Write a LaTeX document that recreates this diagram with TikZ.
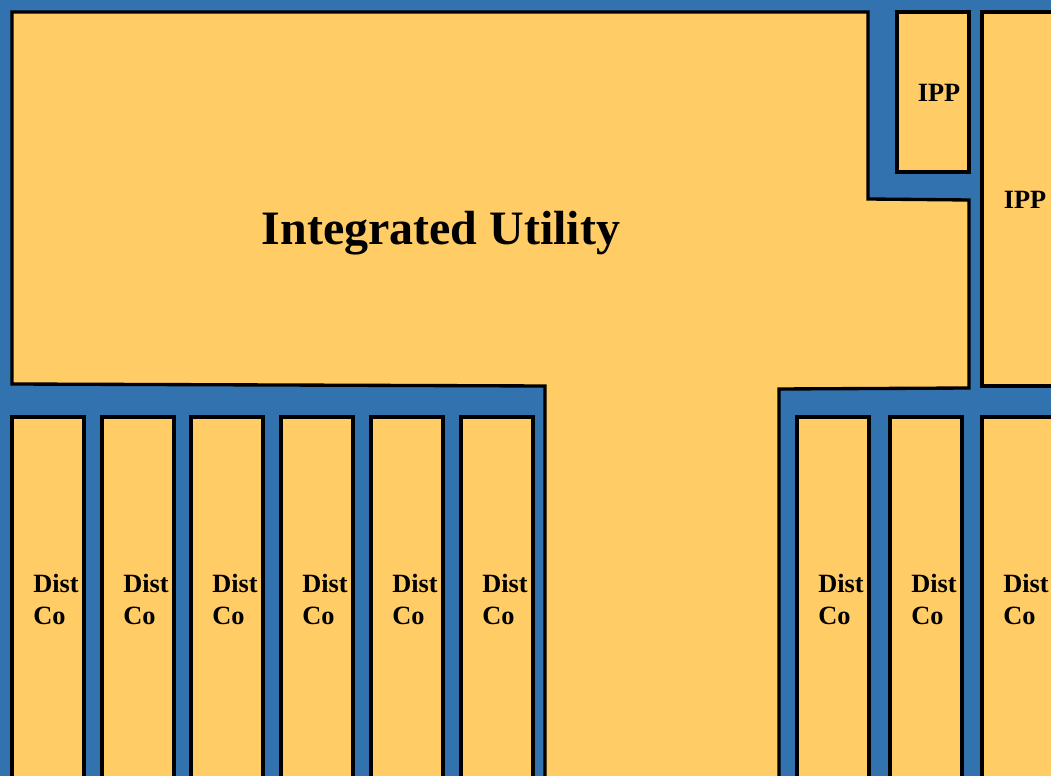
\documentclass[tikz,border=0pt]{standalone}
\usepackage{fontspec}
\setmainfont{Liberation Serif}
\usetikzlibrary{positioning}
\definecolor{gridblue}{RGB}{50,114,175}
\definecolor{areagold}{RGB}{255,204,102}
\tikzset{area/.style={draw=black, fill=areagold, line width=1.9pt},
  areatext/.style={font=\fontsize{15}{18.2}\selectfont\bfseries, inner sep=0pt, align=left}}

\begin{document}
\begin{tikzpicture}[x=0.02cm, y=-0.02cm]

\useasboundingbox (0,0) rectangle (1051,776);
\fill[gridblue] (0,0) rectangle (1051,776);
\clip (0,0) rectangle (1051,776);

% integrated utility
\draw[area] (12,12) -- (868,12) -- (868,199) -- (969,200) -- (969,388) -- (779,389)
  -- (779,800) -- (545,800) -- (545,386) -- (12,384) -- cycle;
\node (iu) [font=\fontsize{27.3}{31}\selectfont\bfseries] at (441,233) {Integrated Utility};

% independent producers
\draw[area] (897,12) rectangle (969,172);
\node (ipp1) [areatext] at (939,93) {IPP};
\draw[area] (982,12) rectangle (1070,386);
\node (ipp2) [areatext] at (1025,200) {IPP};

% distribution companies
\foreach \x [count=\i] in {12,102,191,281,371,461,797,890,982} {
  \draw[area] (\x,417) rectangle (\x+72,800);
  \node (dc\i) [areatext, anchor=west] at (\x+21,599) {Dist\\Co};
}

\end{tikzpicture}
\end{document}
